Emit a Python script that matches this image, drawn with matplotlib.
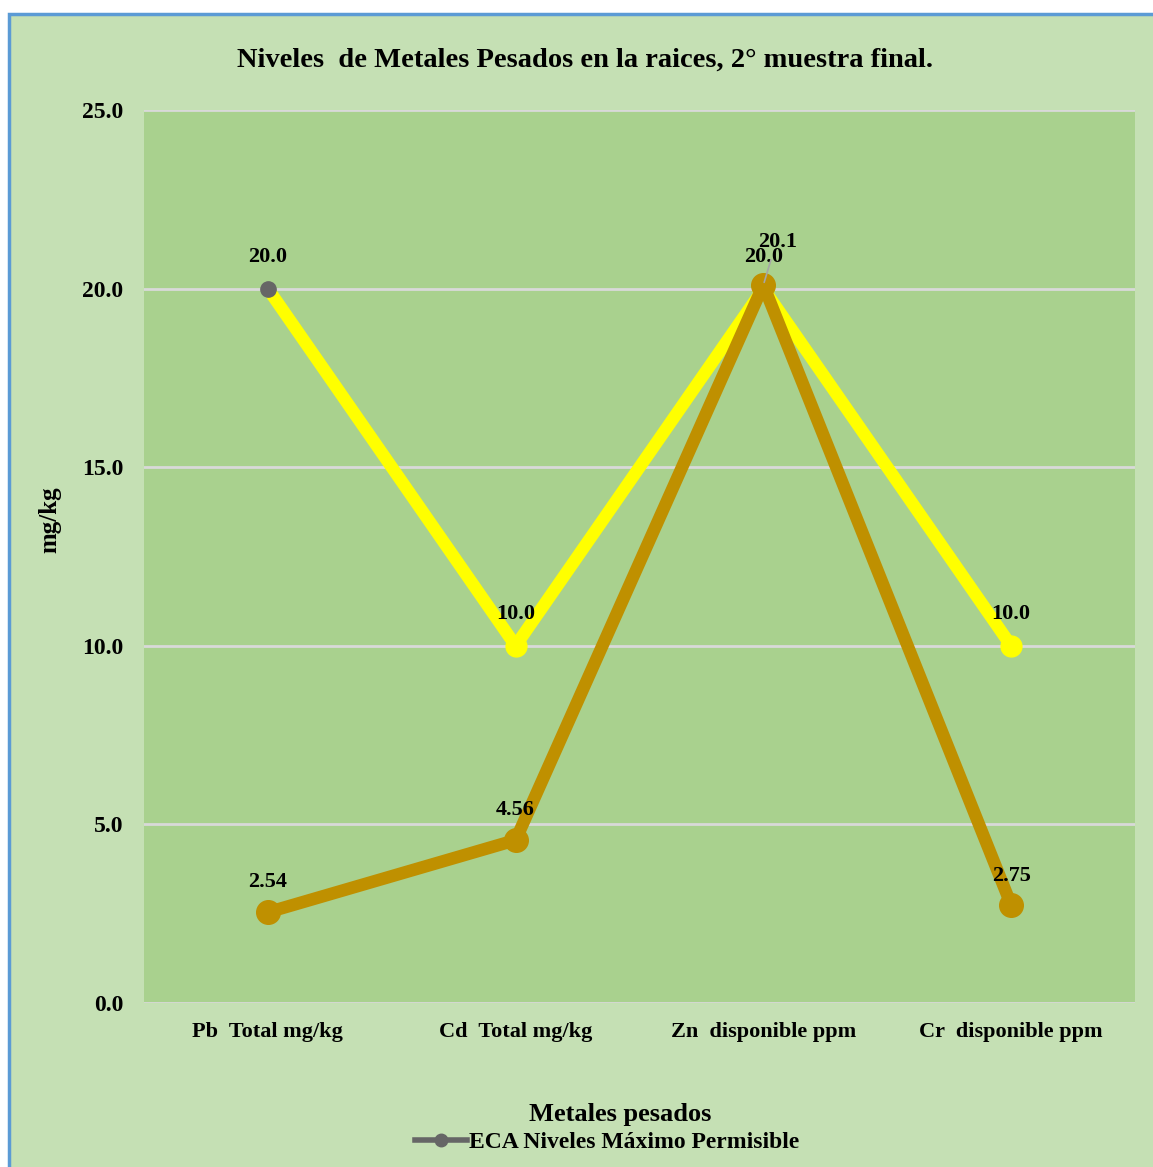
import matplotlib.pyplot as plt
from matplotlib.patches import Rectangle
from matplotlib.lines import Line2D

# Data
categories = ["Pb  Total mg/kg", "Cd  Total mg/kg", "Zn  disponible ppm", "Cr  disponible ppm"]
eca_limits = [20.0, 10.0, 20.0, 10.0]
muestra = [2.54, 4.56, 20.1, 2.75]
eca_labels = ["20.0", "10.0", "20.0", "10.0"]
muestra_labels = ["2.54", "4.56", "20.1", "2.75"]

W, H = 1153, 1167
plt.rcParams["font.family"] = ["Liberation Serif", "DejaVu Serif"]
plt.rcParams["font.weight"] = "bold"

fig = plt.figure(figsize=(W / 100, H / 100), dpi=100, facecolor="white")

# light green chart background with blue border on top/left
fig.patches.append(Rectangle((9 / W, -0.1), 1.2, 1 - 14 / H + 0.1, transform=fig.transFigure,
                             facecolor="#C5E0B4", edgecolor="#5B9BD5", linewidth=2.5, zorder=-10))

ax = fig.add_axes([144 / W, 1 - 1003 / H, (1135 - 144) / W, (1003 - 110) / H])
ax.set_facecolor("#A9D18E")
for s in ax.spines.values():
    s.set_visible(False)

x = list(range(len(categories)))
ax.set_xlim(-0.5, len(categories) - 0.5)
ax.set_ylim(0, 25)
ax.set_yticks([0, 5, 10, 15, 20, 25])
ax.set_yticklabels([f"{v:.1f}" for v in [0, 5, 10, 15, 20, 25]], fontsize=17, fontweight="bold")
ax.set_xticks(x)
ax.set_xticklabels(categories, fontsize=16, fontweight="bold")
ax.tick_params(length=0, pad=14)
ax.tick_params(axis="y", pad=15)
ax.grid(axis="y", color="#D9D9D9", linewidth=2)
ax.set_axisbelow(True)

# ECA series (yellow), first point shown with the grey legend marker
ax.plot(x, eca_limits, color="#FFFF00", linewidth=9, marker="o", markersize=15, markevery=[1, 2, 3],
        markerfacecolor="#FFFF00", markeredgecolor="#FFFF00", zorder=3, solid_capstyle="butt")
ax.plot(x[0], eca_limits[0], marker="o", markersize=11, color="#666666", zorder=5)

# sample series (dark gold)
ax.plot(x, muestra, color="#BF9000", linewidth=9, marker="o", markersize=17,
        markerfacecolor="#BF9000", markeredgecolor="#BF9000", zorder=4, solid_capstyle="round")

fs = 16
for xi, v, lab in zip(x, eca_limits, eca_labels):
    ax.annotate(lab, (xi, v), xytext=(0, 23), textcoords="offset points", ha="center",
                va="center", fontsize=fs, fontweight="bold", zorder=6)
offs = [(0, 22), (0, 22), (10, 31), (0, 21)]
for xi, v, lab, o in zip(x, muestra, muestra_labels, offs):
    ax.annotate(lab, (xi, v), xytext=o, textcoords="offset points", ha="center", va="center",
                fontsize=fs, fontweight="bold", zorder=6)
ax.annotate("", (x[2], muestra[2]), xytext=(6, 20), textcoords="offset points",
            arrowprops=dict(arrowstyle="-", color="#A6A6A6", lw=1.2), zorder=6)

fig.text(585 / W, 1 - 60 / H, "Niveles  de Metales Pesados en la raices, 2° muestra final.",
         ha="center", va="center", fontsize=20.5, fontweight="bold")
fig.text(50 / W, 1 - 520 / H, "mg/kg", rotation=90, ha="center", va="center", fontsize=18, fontweight="bold")
fig.text(620 / W, 1 - 1115 / H, "Metales pesados", ha="center", va="center", fontsize=19, fontweight="bold")

handle = Line2D([], [], color="#666666", linewidth=4, marker="o", markersize=9)
fig.legend([handle], ["ECA Niveles Máximo Permisible"], loc="center", bbox_to_anchor=(607 / W, 1 - 1142 / H),
           frameon=False, prop={"size": 17, "weight": "bold"}, handlelength=2.2, handletextpad=0.1)

fig.savefig("out.png", dpi=100, facecolor="white")
